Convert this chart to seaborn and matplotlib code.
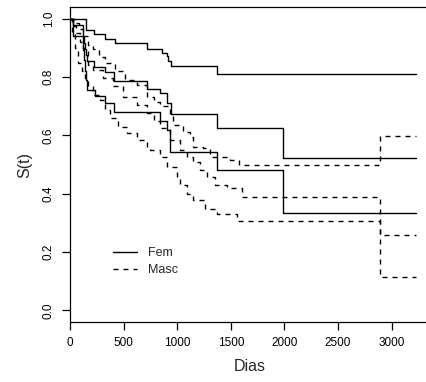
import numpy as np
import pandas as pd
import matplotlib
matplotlib.use("Agg")
import matplotlib.pyplot as plt
import seaborn as sns
from matplotlib.lines import Line2D

# ---- data ----
fem_hi_t = [0, 149, 227, 326, 420, 721, 855, 902, 917, 942, 1368, 3228]
fem_hi_s = [1.0, 0.961, 0.948, 0.931, 0.916, 0.897, 0.883, 0.871, 0.854, 0.837, 0.812, 0.812]

fem_est_t = [0, 25, 118, 125, 135, 140, 145, 155, 227, 326, 410, 721, 840, 902, 940, 1368, 1984, 3228]
fem_est_s = [1.0, 0.979, 0.958, 0.937, 0.916, 0.895, 0.874, 0.854, 0.833, 0.816, 0.788, 0.759, 0.745, 0.710, 0.673, 0.625, 0.521, 0.521]

fem_lo_t = [0, 25, 118, 128, 138, 150, 160, 233, 326, 410, 840, 902, 935, 1368, 1984, 3228]
fem_lo_s = [1.0, 0.941, 0.90, 0.86, 0.82, 0.79, 0.757, 0.736, 0.711, 0.680, 0.648, 0.619, 0.543, 0.481, 0.335, 0.335]

masc_hi_t = [0, 40, 80, 120, 171, 217, 270, 326, 420, 513, 622, 721, 780, 840, 933, 964, 1057, 1119, 1150, 1244, 1306, 1493, 1575, 2895, 3228]
masc_hi_s = [1.0, 0.985, 0.965, 0.94, 0.911, 0.896, 0.87, 0.848, 0.819, 0.791, 0.773, 0.733, 0.715, 0.699, 0.67, 0.636, 0.612, 0.595, 0.561, 0.555, 0.527, 0.516, 0.497, 0.599, 0.599]

masc_est_t = [0, 25, 60, 90, 118, 171, 217, 311, 404, 497, 622, 715, 780, 840, 933, 1026, 1088, 1150, 1213, 1275, 1353, 1462, 1600, 2895, 3228]
masc_est_s = [1.0, 0.975, 0.95, 0.92, 0.894, 0.842, 0.825, 0.796, 0.768, 0.733, 0.704, 0.676, 0.65, 0.624, 0.584, 0.549, 0.527, 0.509, 0.48, 0.457, 0.429, 0.418, 0.388, 0.259, 0.259]

masc_lo_t = [0, 20, 45, 74, 110, 140, 171, 217, 280, 326, 373, 451, 529, 622, 715, 746, 840, 901, 995, 1026, 1090, 1150, 1259, 1368, 1560, 2895, 3228]
masc_lo_s = [1.0, 0.95, 0.9, 0.848, 0.82, 0.796, 0.768, 0.739, 0.722, 0.687, 0.659, 0.63, 0.607, 0.584, 0.555, 0.549, 0.526, 0.492, 0.452, 0.43, 0.40, 0.377, 0.348, 0.331, 0.308, 0.113, 0.113]

groups = ["Fem", "Masc"]
x_ticks = [0, 500, 1000, 1500, 2000, 2500, 3000]
y_ticks = [0.0, 0.2, 0.4, 0.6, 0.8, 1.0]
x_label = "Dias"
y_label = "S(t)"

curves = [
    ("Fem", "hi", fem_hi_t, fem_hi_s),
    ("Fem", "est", fem_est_t, fem_est_s),
    ("Fem", "lo", fem_lo_t, fem_lo_s),
    ("Masc", "hi", masc_hi_t, masc_hi_s),
    ("Masc", "est", masc_est_t, masc_est_s),
    ("Masc", "lo", masc_lo_t, masc_lo_s),
]

sns.set_theme(style="white")
plt.rcParams["font.family"] = ["Liberation Sans", "DejaVu Sans"]

W, H = 426, 382
fig = plt.figure(figsize=(W / 100, H / 100), dpi=100)
ax = fig.add_axes([70 / W, (H - 322) / H, 360 / W, 315 / H])

styles = {"Fem": dict(linestyle="-"), "Masc": dict(linestyle=(0, (3.6, 3.6)))}
for g, kind, t, s in curves:
    df = pd.DataFrame({"t": t, "S": s})
    sns.lineplot(data=df, x="t", y="S", ax=ax, color="black", lw=1.0,
                 drawstyle="steps-post", estimator=None, sort=False,
                 legend=False, **styles[g])

ax.set_xlim(0, 3357)
ax.set_ylim(-0.04, 1.04)
ax.set_xticks(x_ticks)
ax.set_xticklabels([str(v) for v in x_ticks])
ax.set_yticks(y_ticks)
ax.set_yticklabels([f"{v:.1f}" for v in y_ticks], rotation=90, va="center")
ax.tick_params(axis="both", direction="out", length=5.8, width=0.9,
               colors="black", labelsize=8.5, bottom=True, left=True)
ax.tick_params(axis="x", pad=5)
ax.tick_params(axis="y", pad=5)
for side in ["left", "bottom", "top", "right"]:
    ax.spines[side].set_color("black")
    ax.spines[side].set_linewidth(0.9)
ax.set_xlabel(x_label, fontsize=11.5, labelpad=7)
ax.set_ylabel(y_label, fontsize=11.5, labelpad=7.5)

handles = [Line2D([], [], color="black", lw=1.0, **styles[g]) for g in groups]
ax.legend(handles, groups, loc="upper left", frameon=False, fontsize=9,
          bbox_to_anchor=(113 / W, 1 - 247 / H), bbox_transform=fig.transFigure,
          borderpad=0, borderaxespad=0, handlelength=1.9, handletextpad=0.9,
          labelspacing=0.4)

fig.savefig("out.png", dpi=100)
